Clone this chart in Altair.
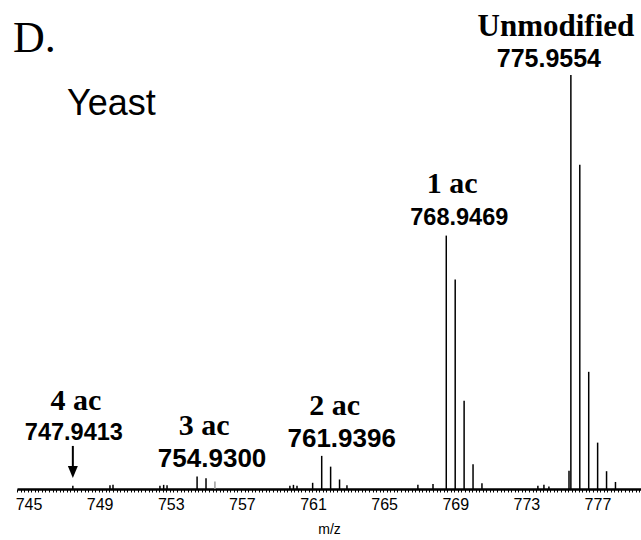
import altair as alt
import numpy as np
import pandas as pd

# Isotope clusters (m/z, relative intensity) of the doubly charged peptide
peak_mz = [
    775.9554, 776.4571, 776.9588, 777.4605, 777.9622, 778.4639, 775.85,
    768.9469, 769.4486, 769.9503, 770.4520, 770.9537, 768.20,
    761.9396, 762.4413, 762.9430, 763.3600, 761.4300,
    754.9300, 755.4317,
    747.9413,
    750.03, 750.20, 752.84, 753.05, 753.24, 760.15, 760.35, 760.55,
    767.35, 774.10, 774.44, 774.72,
]
peak_intensity = [
    100.0, 78.3, 28.3, 11.2, 4.3, 1.7, 4.4,
    61.2, 50.6, 21.3, 6.0, 1.4, 1.2,
    8.0, 5.4, 2.3, 0.9, 1.5,
    3.0, 2.6,
    0.8,
    0.9, 1.0, 0.8, 1.0, 0.9, 0.8, 1.0, 0.8,
    1.0, 0.8, 1.0, 0.6,
]
# A weaker, grey-drawn peak of the 3 ac cluster
faint_mz = [755.9334]
faint_intensity = [1.8]

# Annotated species
ann_name = ["Unmodified", "1 ac", "2 ac", "3 ac", "4 ac"]
ann_mz = [775.9554, 768.9469, 761.9396, 754.9300, 747.9413]

# Label layout: name / value heights in intensity units, pixel shifts and sizes
name_level = [109.3, 71.4, 17.9, 13.0, 19.1]
value_level = [102.0, 63.8, 10.1, 5.3, 11.8]
name_dx = [-15, 6, 13, 7, 3]
value_dx = [-22, 13, 20, 15, 1]
name_size = [31, 30, 30, 30, 30]
value_size = [25, 23.5, 26, 26, 23.5]

# Tick labels on the m/z axis
label_ticks = [745, 749, 753, 757, 761, 765, 769, 773, 777]

X_DOMAIN = [744.8, 779.9]
Y_DOMAIN = [0, 118.1]

xs = alt.Scale(domain=X_DOMAIN, nice=False, zero=False)
ys = alt.Scale(domain=Y_DOMAIN, nice=False, zero=False)

minor_ticks = [round(float(v), 1) for v in np.arange(744.8, 779.85, 0.2)]
label_list = "[" + ",".join(str(t) for t in label_ticks) + "]"

x_axis = alt.Axis(
    values=minor_ticks,
    format=".0f",
    labelExpr=f"indexof({label_list}, datum.value) >= 0 ? datum.label : ''",
    labelOverlap=False,
    labelFont="Liberation Sans",
    labelFontSize=16,
    labelColor="black",
    labelOffset=8,
    labelPadding=4,
    labelFlush=False,
    tickColor="black",
    tickWidth=1,
    tickSize=3,
    domainColor="black",
    domainWidth=2.5,
    grid=False,
    title="m/z",
    titleFont="Liberation Sans",
    titleFontSize=14,
    titleFontWeight="normal",
    titleColor="black",
    titlePadding=10,
)


def mz_x(field="mz:Q"):
    # every layer shares the same m/z scale and axis definition
    return alt.X(field, scale=xs, axis=x_axis)


def level_y(field):
    return alt.Y(field, scale=ys, axis=None)


peaks_df = pd.DataFrame({"mz": peak_mz, "intensity": peak_intensity})
faint_df = pd.DataFrame({"mz": faint_mz, "intensity": faint_intensity})

peaks = alt.Chart(peaks_df).mark_rule(color="black", strokeWidth=1.5).encode(
    x=mz_x(), y=level_y("intensity:Q"), y2=alt.datum(0),
)

faint = alt.Chart(faint_df).mark_rule(color="#9a9a9a", strokeWidth=1.5).encode(
    x=mz_x(), y=level_y("intensity:Q"), y2=alt.datum(0),
)

layers = [peaks, faint]

for i, name in enumerate(ann_name):
    row = pd.DataFrame({
        "mz": [ann_mz[i]],
        "name": [name],
        "value": [f"{ann_mz[i]:.4f}"],
        "name_y": [name_level[i]],
        "value_y": [value_level[i]],
    })
    layers.append(
        alt.Chart(row).mark_text(
            font="Liberation Serif", fontWeight="bold", fontSize=name_size[i],
            color="black", align="center", baseline="alphabetic", dx=name_dx[i],
        ).encode(x=mz_x(), y=level_y("name_y:Q"), text="name:N")
    )
    layers.append(
        alt.Chart(row).mark_text(
            font="Liberation Sans", fontWeight="bold", fontSize=value_size[i],
            color="black", align="center", baseline="alphabetic", dx=value_dx[i],
        ).encode(x=mz_x(), y=level_y("value_y:Q"), text="value:N")
    )

# Arrow pointing at the barely visible 4 ac peak
arrow_df = pd.DataFrame({"mz": [ann_mz[4]], "top": [10.4], "shaft_end": [5.1], "head": [4.1]})
arrow_shaft = alt.Chart(arrow_df).mark_rule(color="black", strokeWidth=2).encode(
    x=mz_x(), y=level_y("top:Q"), y2="shaft_end:Q"
)
arrow_head = alt.Chart(arrow_df).mark_point(
    shape="M-0.83,-1 L0.83,-1 L0,1 Z", filled=True, color="black", size=144, opacity=1
).encode(x=mz_x(), y=level_y("head:Q"))
layers += [arrow_shaft, arrow_head]

panel_letter = alt.Chart(pd.DataFrame({"t": ["D."]})).mark_text(
    font="Liberation Serif", fontSize=44, color="black", align="left", baseline="alphabetic"
).encode(x=alt.value(-4), y=alt.value(52), text="t:N")

organism = alt.Chart(pd.DataFrame({"t": ["Yeast"]})).mark_text(
    font="Liberation Sans", fontSize=36, color="black", align="left", baseline="alphabetic"
).encode(x=alt.value(50), y=alt.value(115), text="t:N")

layers += [panel_letter, organism]

chart = alt.layer(*layers).properties(
    width=624,
    height=489,
    autosize="none",
    padding={"left": 17, "top": 0, "right": 0, "bottom": 51},
    background="white",
).configure_view(stroke=None)

chart.save("out.html", embed_options={"renderer": "svg", "actions": False})
